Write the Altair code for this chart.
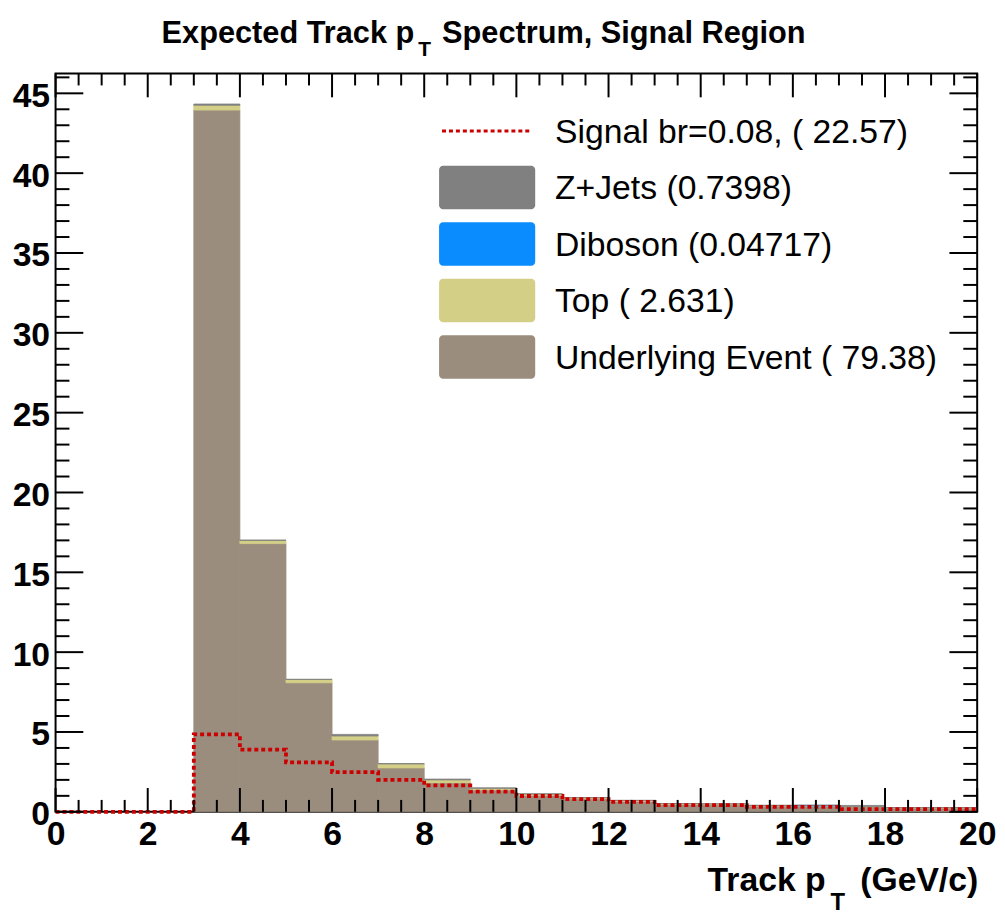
import altair as alt
import pandas as pd

# ---- data ----
bin_lo = list(range(0, 20))
ue = [0, 0, 0, 43.95, 16.8, 8.08, 4.5, 2.75, 1.82, 1.37, 1.04, 0.82, 0.66, 0.47, 0.45, 0.37, 0.345, 0.32, 0.24, 0.24]
top = [0, 0, 0, 0.3, 0.2, 0.21, 0.25, 0.25, 0.18, 0.1, 0.07, 0.06, 0.05, 0.04, 0.04, 0.03, 0.02, 0.02, 0.02, 0.02]
diboson = [0, 0, 0, 0, 0, 0, 0, 0, 0, 0, 0, 0, 0, 0, 0, 0, 0.04, 0, 0, 0]
zjets = [0, 0, 0, 0.08, 0.02, 0.01, 0.1, 0.02, 0.05, 0.03, 0.02, 0.01, 0.01, 0.01, 0.01, 0.01, 0.01, 0.06, 0.01, 0.01]
signal = [0, 0, 0, 4.85, 3.9, 3.1, 2.48, 2.0, 1.65, 1.26, 0.99, 0.79, 0.62, 0.42, 0.42, 0.31, 0.31, 0.17, 0.17, 0.17]

series_names = ["Underlying Event", "Top", "Diboson", "Z+Jets"]
series_values = [ue, top, diboson, zjets]
series_colors = ["#9b8d7e", "#d3cf86", "#0a8cff", "#808080"]

legend_labels = ["Signal br=0.08, ( 22.57)", "Z+Jets (0.7398)", "Diboson (0.04717)",
                 "Top ( 2.631)", "Underlying Event ( 79.38)"]
legend_colors = ["#cc0000", "#808080", "#0a8cff", "#d3cf86", "#9b8d7e"]

x_major = [0, 2, 4, 6, 8, 10, 12, 14, 16, 18, 20]
x_minor = [v / 2 for v in range(0, 41) if v % 4 != 0]
y_major = [0, 5, 10, 15, 20, 25, 30, 35, 40, 45]
y_minor = [v for v in range(0, 47) if v % 5 != 0]

# ---- layout ----
W, H = 930, 745
FONT = "Liberation Sans, Arial, sans-serif"
xs = alt.Scale(domain=[0, 20], nice=False, zero=False)
ys = alt.Scale(domain=[0, 46.24], nice=False)
xa = alt.Axis(values=x_major, ticks=False, domain=False, grid=False,
              labelFont=FONT, labelFontSize=34, labelFontWeight="bold",
              labelColor="black", labelPadding=6, labelFlush=False, title=None)
ya = alt.Axis(values=y_major, ticks=False, domain=False, grid=False,
              labelFont=FONT, labelFontSize=34, labelFontWeight="bold",
              labelColor="black", labelPadding=6, labelFlush=False,
              labelOffset=3, title=None)

rows = []
for k, (name, vals) in enumerate(zip(series_names, series_values)):
    for lo, v in zip(bin_lo, vals):
        rows.append({"lo": lo, "hi": lo + 1, "v": v, "series": name, "ord": k})
df = pd.DataFrame(rows)

sig_df = pd.DataFrame({"x": bin_lo + [20], "v": signal + [signal[-1]]})

cscale = alt.Scale(domain=series_names, range=series_colors)
bars = alt.Chart(df).transform_filter("datum.v > 0").transform_stack(
    stack="v", groupby=["lo"], as_=["y0", "y1"], sort=[alt.SortField("ord", order="ascending")]
).mark_rect(strokeWidth=0.8).encode(
    x=alt.X("lo:Q", scale=xs, axis=xa),
    x2="hi:Q",
    y=alt.Y("y0:Q", scale=ys, axis=ya),
    y2="y1:Q",
    color=alt.Color("series:N", scale=cscale, legend=None),
    stroke=alt.Stroke("series:N", scale=cscale, legend=None),
)

sig = alt.Chart(sig_df).mark_line(interpolate="step-after", color="#cc0000", strokeWidth=3.8,
                                  strokeDash=[4, 3]).encode(
    x=alt.X("x:Q", scale=xs, axis=xa),
    y=alt.Y("v:Q", scale=ys, axis=ya),
)

def xticks(vals, length):
    d = pd.DataFrame({"t": vals})
    b = alt.Chart(d).mark_rule(color="black", strokeWidth=2).encode(
        x=alt.X("t:Q", scale=xs, axis=xa), y=alt.value(H), y2=alt.value(H - length))
    t = alt.Chart(d).mark_rule(color="black", strokeWidth=2).encode(
        x=alt.X("t:Q", scale=xs, axis=xa), y=alt.value(0), y2=alt.value(length))
    return [b, t]

def yticks(vals, length):
    d = pd.DataFrame({"t": vals})
    l = alt.Chart(d).mark_rule(color="black", strokeWidth=2).encode(
        y=alt.Y("t:Q", scale=ys, axis=ya), x=alt.value(0), x2=alt.value(length))
    r = alt.Chart(d).mark_rule(color="black", strokeWidth=2).encode(
        y=alt.Y("t:Q", scale=ys, axis=ya), x=alt.value(W), x2=alt.value(W - length))
    return [l, r]

ticks = xticks(x_major, 24) + xticks(x_minor, 12) + yticks(y_major, 28) + yticks(y_minor, 14)

one = alt.Data(values=[{}])

def text(s, x, y, size, bold=True, align="left"):
    return alt.Chart(one).mark_text(text=s, font=FONT, fontSize=size,
                                    fontWeight="bold" if bold else "normal",
                                    align=align, baseline="alphabetic", color="black").encode(
        x=alt.value(x), y=alt.value(y))

deco = []
# title
deco.append(text("Expected Track p", 362, -31, 31, align="right"))
deco.append(text("T", 366, -18, 21))
deco.append(text("Spectrum, Signal Region", 390, -31, 31))
# x axis title
deco.append(text("Track p", 777, 825, 34, align="right"))
deco.append(text("T", 782, 844, 24))
deco.append(text("(GeV/c)", 812, 825, 34))

# legend
for i, (lab, col) in enumerate(zip(legend_labels, legend_colors)):
    cy = 58 + 57 * i
    if i == 0:
        deco.append(alt.Chart(one).mark_rule(color=col, strokeWidth=3, strokeDash=[4, 3]).encode(
            x=alt.value(390), x2=alt.value(479), y=alt.value(cy)))
    else:
        deco.append(alt.Chart(one).mark_rect(color=col, cornerRadius=4).encode(
            x=alt.value(387), x2=alt.value(484), y=alt.value(cy - 22), y2=alt.value(cy + 22)))
    deco.append(text(lab, 504, cy + 12, 34, bold=False))

chart = alt.layer(bars, sig, *ticks, *deco).properties(
    width=W, height=H,
    autosize=alt.AutoSizeParams(type="none"),
    padding={"left": 48, "top": 62, "right": 20, "bottom": 100},
).configure_view(stroke="black", strokeWidth=2)

chart.save("out.html", embed_options={"renderer": "svg", "actions": False})
